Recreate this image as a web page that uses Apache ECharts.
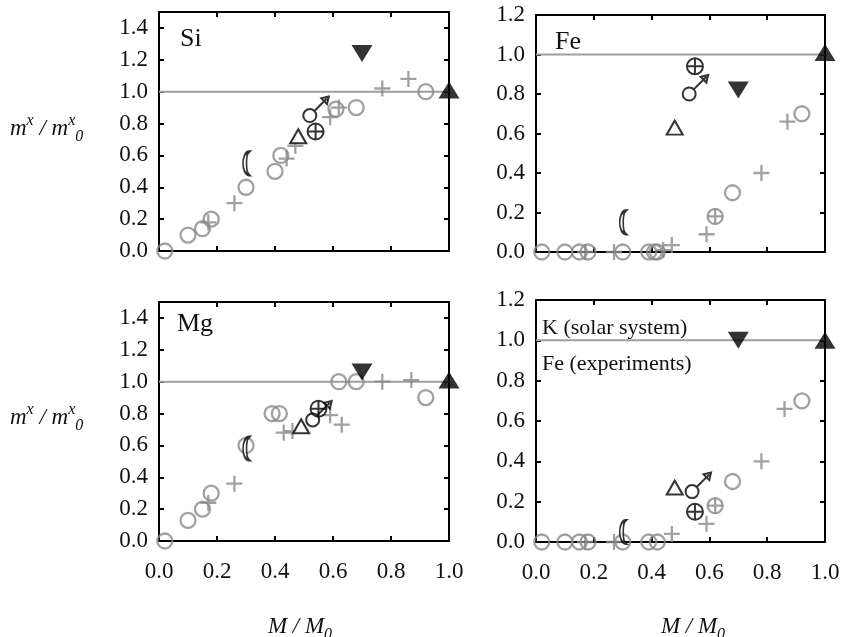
<!DOCTYPE html>
<html>
<head>
<meta charset="utf-8">
<script src="https://cdn.jsdelivr.net/npm/echarts@6/dist/echarts.min.js"></script>
<style>
  html, body { margin: 0; padding: 0; background: #fff; }
  #chart { width: 842px; height: 637px; }
</style>
</head>
<body>
<div id="chart"></div>
<script>
// axis ranges (tick labels come from these)
var xRange = [0, 1.0];
var siMgRange = [0, 1.5];
var feKRange = [0, 1.2];
var tickStep = 0.2;
var refLevel = 1.0;

// Si panel
var siCircles = [[0.02,0.00],[0.10,0.10],[0.15,0.14],[0.18,0.20],[0.30,0.40],[0.40,0.50],[0.42,0.60],[0.61,0.89],[0.68,0.90],[0.92,1.00]];
var siPlus = [[0.17,0.18],[0.26,0.30],[0.44,0.58],[0.47,0.66],[0.59,0.84],[0.62,0.90],[0.77,1.02],[0.86,1.08]];
var siBodies = [['triOpen',0.48,0.72],['earth',0.54,0.75],['mars',0.52,0.85],['moon',0.30,0.55],['triDown',0.70,1.24],['triUp',1.00,1.01]];

// Fe panel
var feCircles = [[0.02,0],[0.10,0],[0.15,0],[0.18,0],[0.30,0],[0.39,0],[0.41,0],[0.42,0],[0.62,0.18],[0.68,0.30],[0.92,0.70]];
var fePlus = [[0.17,0],[0.27,0],[0.44,0.01],[0.47,0.035],[0.59,0.09],[0.62,0.18],[0.78,0.40],[0.87,0.66]];
var feBodies = [['triOpen',0.48,0.63],['earth',0.55,0.94],['mars',0.53,0.80],['moon',0.30,0.15],['triDown',0.70,0.82],['triUp',1.00,1.01]];

// Mg panel
var mgCircles = [[0.02,0],[0.10,0.13],[0.15,0.20],[0.18,0.30],[0.30,0.60],[0.39,0.80],[0.415,0.80],[0.62,1.00],[0.68,1.00],[0.92,0.90]];
var mgPlus = [[0.17,0.24],[0.26,0.36],[0.43,0.68],[0.46,0.69],[0.59,0.79],[0.63,0.73],[0.77,1.00],[0.87,1.01]];
var mgBodies = [['triOpen',0.49,0.72],['mars',0.53,0.76],['earth',0.55,0.83],['moon',0.30,0.58],['triDown',0.70,1.06],['triUp',1.00,1.01]];

// K / Fe panel
var kCircles = [[0.02,0],[0.10,0],[0.15,0],[0.18,0],[0.30,0],[0.39,0],[0.42,0],[0.62,0.18],[0.68,0.30],[0.92,0.70]];
var kPlus = [[0.17,0],[0.27,0],[0.47,0.04],[0.59,0.09],[0.62,0.18],[0.78,0.40],[0.86,0.66]];
var kBodies = [['triOpen',0.48,0.27],['mars',0.54,0.25],['earth',0.55,0.15],['moon',0.30,0.05],['triDown',0.70,1.00],['triUp',1.00,1.00]];

var serif = '"Liberation Serif", "DejaVu Serif", serif';
var gray = '#8a8a8a';

var plusPath = 'path://M0,8H16M8,0V16';
var earthPath = 'path://M15,7.5A7.5,7.5,0,1,1,0,7.5A7.5,7.5,0,1,1,15,7.5ZM0,7.5H15M7.5,0V15';
var marsPath = 'path://M13.5,26A6.5,6.5,0,1,1,0.5,26A6.5,6.5,0,1,1,13.5,26ZM11.6,21.4L24,9M26,7L18.5,8.8L24.2,14.5Z';
var moonPath = 'path://M11,0C-3.6,0,-3.6,22,11,22C5,19,5,3,11,0Z';

var bodyStyle = {
    triOpen: { symbol: 'triangle', symbolSize: [16, 14], itemStyle: { color: '#fff', borderColor: '#000', borderWidth: 2 } },
    earth: { symbol: earthPath, symbolSize: 16, itemStyle: { color: 'rgba(255,255,255,0)', borderColor: '#000', borderWidth: 2 } },
    mars: { symbol: marsPath, symbolSize: 25.5, symbolOffset: [6.25, -6.25], itemStyle: { color: 'rgba(255,255,255,0)', borderColor: '#000', borderWidth: 2 } },
    moon: { symbol: moonPath, symbolSize: [12, 23], itemStyle: { color: '#fff', borderColor: '#000', borderWidth: 2.2 } },
    triDown: { symbol: 'triangle', symbolSize: [21, 17], symbolRotate: 180, itemStyle: { color: '#000' } },
    triUp: { symbol: 'triangle', symbolSize: [21, 17], itemStyle: { color: '#000' } }
};

function bodyItem(b) {
    var st = bodyStyle[b[0]];
    var item = { value: [b[1], b[2]], symbol: st.symbol, symbolSize: st.symbolSize, symbolKeepAspect: true, itemStyle: st.itemStyle };
    if (st.symbolRotate) item.symbolRotate = st.symbolRotate;
    if (st.symbolOffset) item.symbolOffset = st.symbolOffset;
    return item;
}

var grids = [
    { left: 159, top: 12, width: 290, height: 239 },   // Si
    { left: 536, top: 15, width: 289, height: 237 },   // Fe
    { left: 159, top: 302, width: 290, height: 239 },  // Mg
    { left: 536, top: 300, width: 289, height: 242 }   // K
];
var yRanges = [siMgRange, feKRange, siMgRange, feKRange];
var showX = [false, false, true, true];
var panels = [
    [siCircles, siPlus, siBodies],
    [feCircles, fePlus, feBodies],
    [mgCircles, mgPlus, mgBodies],
    [kCircles, kPlus, kBodies]
];

function fmt(v) { return v.toFixed(1); }

function makeAxis(gi, pos, range, labels) {
    return {
        type: 'value', gridIndex: gi, position: pos,
        min: range[0], max: range[1], interval: tickStep,
        axisLine: { show: true, onZero: false, lineStyle: { color: '#000', width: 2 } },
        axisTick: { show: true, inside: true, length: 5, lineStyle: { color: '#000', width: 2 } },
        axisLabel: { show: labels, showMaxLabel: range[1] !== 1.5, margin: pos === 'left' ? 11 : 19,
            fontFamily: serif, fontSize: 23, color: '#111', formatter: fmt },
        splitLine: { show: false }
    };
}

var xAxes = [], yAxes = [], series = [];
for (var i = 0; i < grids.length; i++) {
    grids[i].outerBoundsMode = 'none';
    xAxes.push(makeAxis(i, 'bottom', xRange, showX[i]));
    xAxes.push(makeAxis(i, 'top', xRange, false));
    yAxes.push(makeAxis(i, 'left', yRanges[i], true));
    yAxes.push(makeAxis(i, 'right', yRanges[i], false));

    var xi = i * 2, yi = i * 2;
    series.push({
        type: 'line', xAxisIndex: xi, yAxisIndex: yi, z: 1, silent: true,
        symbol: 'none', data: [[xRange[0], refLevel], [xRange[1], refLevel]],
        lineStyle: { color: '#9e9e9e', width: 2 }
    });
    series.push({
        type: 'scatter', xAxisIndex: xi, yAxisIndex: yi, z: 2, clip: false,
        symbol: 'circle', symbolSize: 15, data: panels[i][0],
        itemStyle: { color: 'rgba(255,255,255,0)', borderColor: gray, borderWidth: 2.3 }
    });
    series.push({
        type: 'scatter', xAxisIndex: xi, yAxisIndex: yi, z: 2, clip: false,
        symbol: plusPath, symbolSize: 16, data: panels[i][1],
        itemStyle: { color: 'rgba(255,255,255,0)', borderColor: gray, borderWidth: 2.3 }
    });
    series.push({
        type: 'scatter', xAxisIndex: xi, yAxisIndex: yi, z: 3, clip: false,
        data: panels[i][2].map(bodyItem)
    });
}

function txt(s, x, y, size) {
    return { type: 'text', x: x, y: y, z: 10,
        style: { text: s, fontFamily: serif, fontSize: size, fill: '#111', verticalAlign: 'middle' } };
}

var titleRich = {
    m: { fontFamily: serif, fontStyle: 'italic', fontSize: 23, lineHeight: 32, fill: '#111' },
    s: { fontFamily: serif, fontStyle: 'italic', fontSize: 16, lineHeight: 16, verticalAlign: 'top', fill: '#111' },
    b: { fontFamily: serif, fontStyle: 'italic', fontSize: 16, lineHeight: 16, verticalAlign: 'bottom', fill: '#111' }
};
function yTitle(y) {
    return { type: 'text', x: 10, y: y, z: 10,
        style: { text: '{m|m}{s|x}{m| / m}{s|x}{b|0}', rich: titleRich, verticalAlign: 'middle' } };
}
function xTitle(x) {
    return { type: 'text', x: x, y: 627, z: 10,
        style: { text: '{m|M / M}{b|0}', rich: titleRich, align: 'center', verticalAlign: 'middle' } };
}

var chart = echarts.init(document.getElementById('chart'));
chart.setOption({
    animation: false,
    backgroundColor: '#fff',
    grid: grids,
    xAxis: xAxes,
    yAxis: yAxes,
    series: series,
    graphic: [
        txt('Si', 180, 39, 26),
        txt('Fe', 555, 42, 26),
        txt('Mg', 177, 324, 26),
        txt('K (solar system)', 542, 328, 22),
        txt('Fe (experiments)', 542, 364, 22),
        yTitle(129),
        yTitle(418),
        xTitle(300),
        xTitle(693)
    ]
});
</script>
</body>
</html>
